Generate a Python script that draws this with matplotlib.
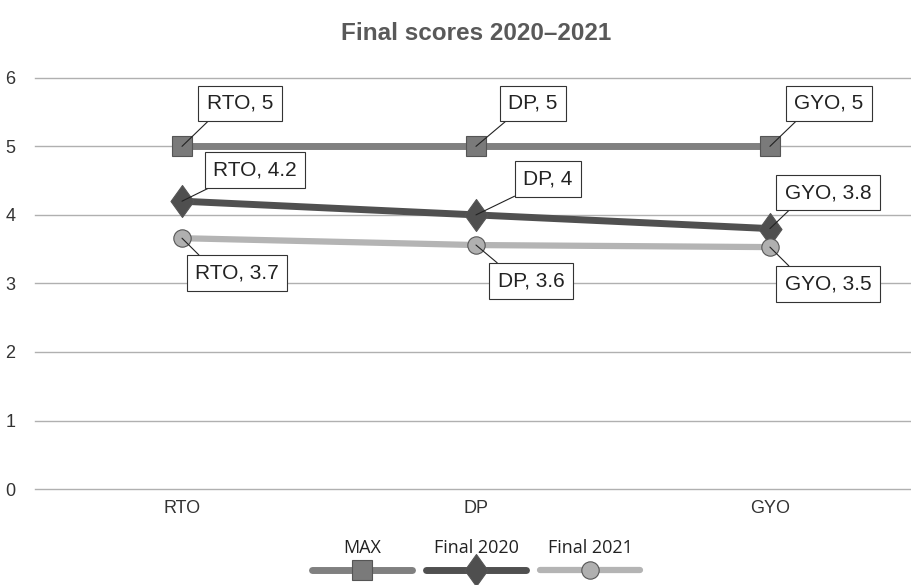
import matplotlib.pyplot as plt
from matplotlib.lines import Line2D
from matplotlib.path import Path

# categories and series
categories = ['RTO', 'DP', 'GYO']
max_scores = [5, 5, 5]
final_2020 = [4.2, 4.0, 3.8]
final_2021 = [3.66, 3.56, 3.53]
y_ticks = [0, 1, 2, 3, 4, 5, 6]

plt.rcParams['font.family'] = ['Liberation Sans', 'DejaVu Sans']

# tall diamond like the office-style marker
tall_diamond = Path([(0, 1), (0.72, 0), (0, -1), (-0.72, 0), (0, 1)],
                    [Path.MOVETO, Path.LINETO, Path.LINETO, Path.LINETO, Path.CLOSEPOLY])

# style per series: name, values, line colour, marker, marker fill, size, line width,
# label offsets in pixels (one per category)
series = [
    ('MAX', max_scores, '#808080', 's', '#7a7a7a', 15, 5.0,
     [(58, 43), (57, 43), (59, 43)]),
    ('Final 2020', final_2020, '#505050', tall_diamond, '#4f4f4f', 23, 5.0,
     [(73, 31), (72, 36), (58, 36)]),
    ('Final 2021', final_2021, '#b4b4b4', 'o', '#b0b0b0', 12.5, 4.5,
     [(55, -35), (55, -36), (58, -37)]),
]

fig = plt.figure(figsize=(9.12, 5.85), dpi=100)
ax = fig.add_axes([0.0384, 0.164, 0.967, 0.703])
x = list(range(len(categories)))

for name, vals, col, mk, fill, ms, lw, offs in series:
    ax.plot(x, vals, color=col, lw=lw, solid_capstyle='round', zorder=3)
    ax.plot(x, vals, ls='none', marker=mk, ms=ms, mfc=fill, mec='#555555',
            mew=0.8, zorder=4)
    for xi, v, (dx, dy) in zip(x, vals, offs):
        rel = (0.15, 0.0) if dy > 0 else (0.15, 1.0)
        ax.annotate(f'{categories[xi]}, {round(v, 1):g}', xy=(xi, v),
                    xytext=(dx, dy), textcoords='offset pixels',
                    ha='center', va='center', fontsize=15, color='#222222',
                    bbox=dict(boxstyle='square,pad=0.4', fc='white', ec='#333333', lw=0.8),
                    arrowprops=dict(arrowstyle='-', color='#222222', lw=0.8,
                                    relpos=rel, shrinkA=0, shrinkB=0),
                    zorder=6)

ax.set_xlim(-0.5, 2.5)
ax.set_ylim(0, 6)
ax.set_yticks(y_ticks)
ax.set_xticks(x)
ax.set_xticklabels(categories)
ax.grid(axis='y', color='#b0b0b0', lw=1.0)
for gl in ax.get_ygridlines():
    gl.set_clip_on(False)
ax.set_axisbelow(True)
for s in ax.spines.values():
    s.set_visible(False)
ax.tick_params(length=0, labelsize=13, colors='#333333')
ax.tick_params(axis='y', pad=14)
ax.tick_params(axis='x', pad=8)

fig.text(0.522, 0.942, 'Final scores 2020\u20132021', ha='center', va='center',
         fontsize=17.5, fontweight='bold', color='#595959')

# legend: label above each line sample
leg_x = [362, 476, 590]
for (name, vals, col, mk, fill, ms, lw, offs), cx in zip(series, leg_x):
    fx = cx / 912
    fy = 1 - 570 / 585
    fig.add_artist(Line2D([fx - 50 / 912, fx + 50 / 912], [fy, fy], color=col, lw=lw,
                          solid_capstyle='round', transform=fig.transFigure))
    fig.add_artist(Line2D([fx], [fy], ls='none', marker=mk, ms=ms, mfc=fill,
                          mec='#555555', mew=0.8, transform=fig.transFigure))
    fig.text(fx, 1 - 548 / 585, name, ha='center', va='center', fontsize=13,
             color='#222222', family=['Open Sans', 'DejaVu Sans'])

fig.savefig('out.png', dpi=100)
